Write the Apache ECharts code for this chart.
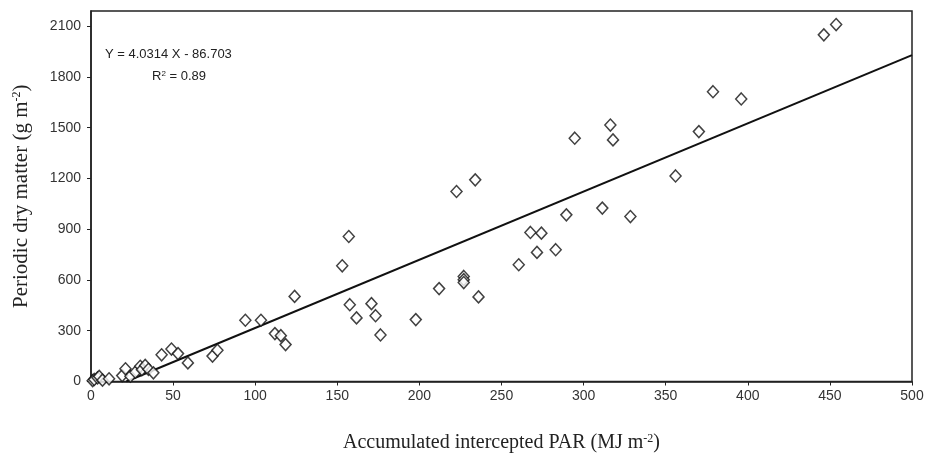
<!DOCTYPE html>
<html>
<head>
<meta charset="utf-8">
<script src="https://cdn.jsdelivr.net/npm/echarts@6/dist/echarts.min.js"></script>
<style>
  html, body { margin: 0; padding: 0; background: #fff; }
  #chart { width: 928px; height: 458px; }
</style>
</head>
<body>
<div id="chart"></div>
<script>
// observed points: [accumulated intercepted PAR, periodic dry matter]
const parX = [1, 2, 4, 5, 7, 11, 19, 21, 24, 27, 30, 31, 33, 35, 38, 43, 49, 53, 59, 74, 77,
  94, 103.5, 112, 115.6, 118.5, 124, 153, 157, 157.6, 161.7, 170.8, 173.3, 176.3, 197.8,
  212, 222.6, 227, 227, 227, 234, 236, 260.5, 267.6, 271.6, 274.3, 283, 289.5, 294.6,
  311.4, 316.3, 317.9, 328.5, 356, 370.2, 378.8, 396, 446.3, 453.8]
const dryMatter = [5, 12, 22, 30, 8, 16, 35, 75, 31, 55, 90, 70, 95, 72, 51, 158, 192, 165, 110, 150, 185,
  362, 362, 283, 271, 218, 503, 684, 857, 454, 376, 460, 389, 275, 366,
  549, 1123, 621, 602, 585, 1192, 500, 690, 881, 763, 877, 779, 985, 1438,
  1025, 1516, 1428, 975, 1215, 1477, 1713, 1670, 2049, 2110]

// regression from the figure: Y = 4.0314 X - 86.703
const slope = 4.0314
const intercept = -86.703
const fitX = [-intercept / slope, 500]

const xTicks = [0, 50, 100, 150, 200, 250, 300, 350, 400, 450, 500]
const yTicks = [0, 300, 600, 900, 1200, 1500, 1800, 2100]

const points = parX.map((x, i) => [x, dryMatter[i]])
const fitLine = fitX.map(x => [x, slope * x + intercept])

const chart = echarts.init(document.getElementById('chart'))

const tickFont = { fontFamily: 'Liberation Sans', fontSize: 14, color: '#333', formatter: v => String(v) }
const supStyle = { fontFamily: 'Liberation Serif', fontSize: 12, color: '#222', verticalAlign: 'top', padding: [0, 0, 9, 0] }

chart.setOption({
  animation: false,
  backgroundColor: '#fff',
  grid: {
    left: 91, right: 16, top: 11, bottom: 76,
    show: true, borderColor: '#222', borderWidth: 1.5
  },
  xAxis: {
    type: 'value', min: 0, max: 500, interval: 50,
    name: 'Accumulated intercepted PAR (MJ m{sup|-2})',
    nameLocation: 'middle', nameGap: 51,
    nameTextStyle: { fontFamily: 'Liberation Serif', fontSize: 20, color: '#222', rich: { sup: supStyle } },
    axisLine: { lineStyle: { color: '#222', width: 1.5 } },
    axisTick: { inside: false, length: 4, lineStyle: { color: '#222' }, customValues: xTicks },
    axisLabel: Object.assign({ margin: 8, customValues: xTicks }, tickFont),
    splitLine: { show: false }
  },
  yAxis: {
    type: 'value', min: 0, max: 2190,
    name: 'Periodic dry matter (g m{sup|-2})',
    nameLocation: 'middle', nameGap: 59, nameRotate: 90,
    nameTextStyle: { fontFamily: 'Liberation Serif', fontSize: 21, color: '#222', rich: { sup: supStyle } },
    axisLine: { show: true, lineStyle: { color: '#222', width: 1.5 } },
    axisTick: { show: true, inside: false, length: 4, lineStyle: { color: '#222' }, customValues: yTicks },
    axisLabel: Object.assign({ margin: 10, customValues: yTicks }, tickFont),
    splitLine: { show: false }
  },
  graphic: [
    {
      type: 'text', left: 105, top: 48,
      style: { text: 'Y = 4.0314 X - 86.703', font: '13px "Liberation Sans"', fill: '#222' }
    },
    {
      type: 'text', left: 152, top: 70,
      style: {
        text: 'R{sup|2} = 0.89', font: '13px "Liberation Sans"', fill: '#222',
        rich: { sup: { fontSize: 8, fontFamily: 'Liberation Sans', fill: '#222', verticalAlign: 'top' } }
      }
    }
  ],
  series: [
    {
      type: 'line', data: fitLine, showSymbol: false, symbol: 'none',
      lineStyle: { color: '#111', width: 2 }, z: 2
    },
    {
      type: 'scatter', data: points, symbol: 'diamond', symbolSize: [11, 12],
      itemStyle: { color: '#fff', borderColor: '#111', borderWidth: 1.5 }, z: 3
    }
  ]
})
</script>
</body>
</html>
